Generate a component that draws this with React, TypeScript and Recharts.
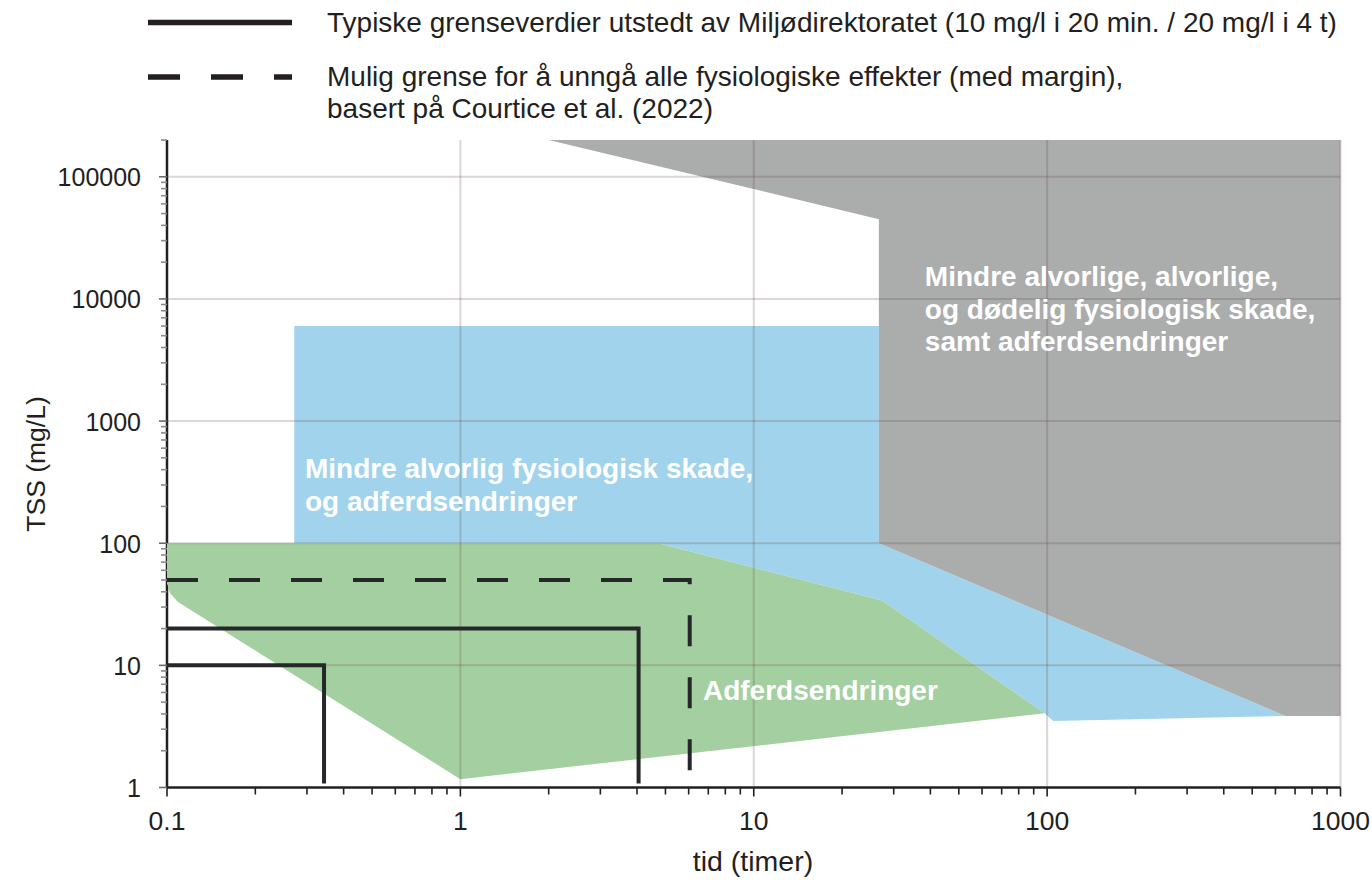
import React from 'react';
import { ComposedChart, XAxis, YAxis, Scatter } from 'recharts';

const FONT = '"Liberation Sans", Arial, Helvetica, sans-serif';
const INK = '#231f20';
const W = 1372;
const H = 885;

// ---- axes -----------------------------------------------------------------
const xDomain = [0.1, 1000];
const yDomain = [1, 200000];
const xTicks = [
  0.1, 0.2, 0.3, 0.4, 0.5, 0.6, 0.7, 0.8, 0.9,
  1, 2, 3, 4, 5, 6, 7, 8, 9,
  10, 20, 30, 40, 50, 60, 70, 80, 90,
  100, 200, 300, 400, 500, 600, 700, 800, 900,
  1000,
];
const xMajorTicks = [0.1, 1, 10, 100, 1000];
const xTickLabels = ['0.1', '1', '10', '100', '1000'];
const yTicks = [
  1, 2, 3, 4, 5, 6, 7, 8, 9,
  10, 20, 30, 40, 50, 60, 70, 80, 90,
  100, 200, 300, 400, 500, 600, 700, 800, 900,
  1000, 2000, 3000, 4000, 5000, 6000, 7000, 8000, 9000,
  10000, 20000, 30000, 40000, 50000, 60000, 70000, 80000, 90000,
  100000, 200000,
];
const yMajorTicks = [1, 10, 100, 1000, 10000, 100000];
const yTickLabels = ['1', '10', '100', '1000', '10000', '100000'];
const xGridValues = [1, 10, 100, 1000];
const yGridValues = [10, 100, 1000, 10000, 100000];

// ---- regions (x = tid i timer, y = TSS mg/L) --------------------------------
const grayRegion = [
  { x: 2, y: 200000 },
  { x: 1000, y: 200000 },
  { x: 1000, y: 3.85 },
  { x: 649, y: 3.85 },
  { x: 26.7, y: 100 },
  { x: 26.7, y: 45000 },
];
const blueRegion = [
  { x: 0.2715, y: 6000 },
  { x: 26.7, y: 6000 },
  { x: 26.7, y: 100 },
  { x: 649, y: 3.85 },
  { x: 105, y: 3.5 },
  { x: 98, y: 4.05 },
  { x: 27.4, y: 34 },
  { x: 4.72, y: 100 },
  { x: 0.2715, y: 100 },
];
const greenRegion = [
  { x: 0.1, y: 100 },
  { x: 4.72, y: 100 },
  { x: 27.4, y: 34 },
  { x: 98, y: 4.05 },
  { x: 1, y: 1.17 },
  { x: 0.109, y: 33 },
  { x: 0.1025, y: 39 },
  { x: 0.1, y: 47 },
];

// ---- limit lines --------------------------------------------------------
const limit20min = [
  { x: 0.1, y: 10 },
  { x: 0.343, y: 10 },
  { x: 0.343, y: 1.08 },
];
const limit4h = [
  { x: 0.1, y: 20 },
  { x: 4.05, y: 20 },
  { x: 4.05, y: 1.08 },
];
const courticeLimit = [
  { x: 0.1, y: 50 },
  { x: 6.05, y: 50 },
  { x: 6.05, y: 1.08 },
];

// ---- texts --------------------------------------------------------------
const legendLine1 = 'Typiske grenseverdier utstedt av Miljødirektoratet (10 mg/l i 20 min. / 20 mg/l i 4 t)';
const legendLine2 = 'Mulig grense for å unngå alle fysiologiske effekter (med margin),';
const legendLine3 = 'basert på Courtice et al. (2022)';
const grayLabelLines = ['Mindre alvorlige, alvorlige,', 'og dødelig fysiologisk skade,', 'samt adferdsendringer'];
const blueLabelLines = ['Mindre alvorlig fysiologisk skade,', 'og adferdsendringer'];
const greenLabelLines = ['Adferdsendringer'];
const regionLabels = [
  { x: 38.3, y: 12800, lines: grayLabelLines },
  { x: 0.2953, y: 342, lines: blueLabelLines },
  { x: 6.71, y: 5.2, lines: greenLabelLines },
];

// grid segments built from the grid values
const vGridData = xGridValues.flatMap((v) => [
  { x: v, y: yDomain[0] },
  { x: v, y: yDomain[1] },
]);
const hGridData = yGridValues.flatMap((v) => [
  { x: xDomain[0], y: v },
  { x: xDomain[1], y: v },
]);

const NoPoint = () => <g />;

const GridSegments = (p: any) => {
  const pts = p.points || [];
  const segs: any[] = [];
  for (let i = 0; i + 1 < pts.length; i += 2) {
    segs.push(
      <line
        key={i}
        x1={pts[i].x}
        y1={pts[i].y}
        x2={pts[i + 1].x}
        y2={pts[i + 1].y}
        stroke="rgba(95,70,62,0.22)"
        strokeWidth={2}
      />
    );
  }
  return <g>{segs}</g>;
};

const RegionLabel = (props: any) => {
  const { cx, cy, payload } = props;
  if (cx == null || cy == null) return <g />;
  return (
    <text x={cx} y={cy} fill="#ffffff" fontSize={28} fontWeight="bold" fontFamily={FONT}>
      {payload.lines.map((l: string, i: number) => (
        <tspan key={i} x={cx} dy={i === 0 ? 0 : 32.8}>
          {l}
        </tspan>
      ))}
    </text>
  );
};

const DIGIT_W = 13.9;

const XTick = (props: any) => {
  const { x, y, payload } = props;
  const v = payload.value;
  const idx = xMajorTicks.indexOf(v);
  const major = idx >= 0;
  return (
    <g>
      <line x1={x} x2={x} y1={y} y2={y + (major ? 9 : 7)} stroke={INK} strokeWidth={1.6} />
      {major && (
        <text x={x} y={y + 42} textAnchor="middle" fontSize={26.5} fontFamily={FONT} fill={INK}>
          {xTickLabels[idx]}
        </text>
      )}
    </g>
  );
};

const YTick = (props: any) => {
  const { x, y, payload } = props;
  const v = payload.value;
  const idx = yMajorTicks.indexOf(v);
  const major = idx >= 0;
  const label = major ? yTickLabels[idx] : '';
  return (
    <g>
      <line x1={x} x2={x - (major ? 8 : 6)} y1={y} y2={y} stroke={major ? '#6b6b6b' : '#8a8a8a'} strokeWidth={1.6} />
      {major && (
        <text
          x={x - 26 - label.length * DIGIT_W}
          y={y + 9.5}
          textAnchor="start"
          fontSize={26.5}
          fontFamily={FONT}
          fill={INK}
          textLength={label.length * DIGIT_W}
          lengthAdjust="spacingAndGlyphs"
        >
          {label}
        </text>
      )}
    </g>
  );
};

export default function App() {
  return (
    <div style={{ position: 'absolute', left: 0, top: 0, width: W, height: H, background: '#ffffff' }}>
      <ComposedChart
        width={W}
        height={H}
        margin={{ top: 140, right: 31.5, bottom: 96.5, left: 166 }}
      >
        <Scatter data={blueRegion} shape={NoPoint} line={{ fill: '#a1d4ec', stroke: 'none' }} isAnimationActive={false} legendType="none" />
        <Scatter data={greenRegion} shape={NoPoint} line={{ fill: '#a4cfa0', stroke: 'none' }} isAnimationActive={false} legendType="none" />
        <Scatter data={grayRegion} shape={NoPoint} line={{ fill: '#abacac', stroke: 'none' }} isAnimationActive={false} legendType="none" />
        <Scatter data={vGridData} shape={NoPoint} line={GridSegments} isAnimationActive={false} legendType="none" />
        <Scatter data={hGridData} shape={NoPoint} line={GridSegments} isAnimationActive={false} legendType="none" />
        <Scatter data={limit20min} shape={NoPoint} line={{ stroke: '#26272b', strokeWidth: 4, fill: 'none', strokeLinejoin: 'miter' }} isAnimationActive={false} legendType="none" />
        <Scatter data={limit4h} shape={NoPoint} line={{ stroke: '#26272b', strokeWidth: 4, fill: 'none', strokeLinejoin: 'miter' }} isAnimationActive={false} legendType="none" />
        <Scatter data={courticeLimit} shape={NoPoint} line={{ stroke: '#26272b', strokeWidth: 4, fill: 'none', strokeDasharray: '31 31', strokeLinejoin: 'miter' }} isAnimationActive={false} legendType="none" />
        <Scatter data={regionLabels} shape={RegionLabel} isAnimationActive={false} legendType="none" />
        <XAxis
          type="number"
          dataKey="x"
          scale="log"
          domain={xDomain}
          ticks={xTicks}
          interval={0}
          height={1}
          tickSize={0}
          tickMargin={0}
          tickLine={false}
          tick={<XTick />}
          axisLine={{ stroke: INK, strokeWidth: 2.5 }}
        />
        <YAxis
          type="number"
          dataKey="y"
          scale="log"
          domain={yDomain}
          ticks={yTicks}
          interval={0}
          width={1}
          tickSize={0}
          tickMargin={0}
          tickLine={false}
          tick={<YTick />}
          axisLine={{ stroke: INK, strokeWidth: 2.5 }}
        />
      </ComposedChart>
      <svg
        width={W}
        height={H}
        style={{ position: 'absolute', left: 0, top: 0, pointerEvents: 'none' }}
      >
        <line x1={148} x2={292} y1={22.5} y2={22.5} stroke={INK} strokeWidth={5.5} />
        <line x1={148} x2={292} y1={77} y2={77} stroke={INK} strokeWidth={5.5} strokeDasharray="32 31" />
        <g fontFamily={FONT} fontSize={28} fill={INK}>
          <text x={327} y={32}>{legendLine1}</text>
          <text x={327} y={86}>{legendLine2}</text>
          <text x={327} y={118}>{legendLine3}</text>
        </g>
        <text x={753} y={871} textAnchor="middle" fontFamily={FONT} fontSize={28.5} fill={INK}>
          tid (timer)
        </text>
        <text
          transform="translate(45,464) rotate(-90)"
          textAnchor="middle"
          fontFamily={FONT}
          fontSize={26.5}
          fill={INK}
        >
          TSS (mg/L)
        </text>
      </svg>
    </div>
  );
}
